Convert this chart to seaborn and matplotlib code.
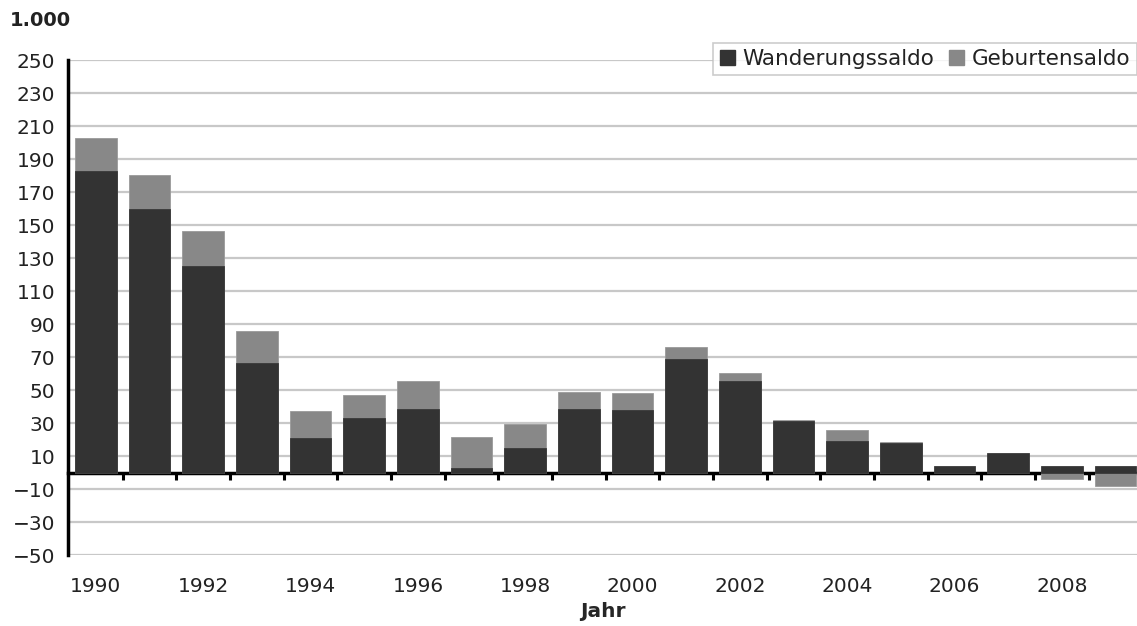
import pandas as pd
import seaborn as sns
import matplotlib.pyplot as plt
from matplotlib.patches import Patch

# Daten (in 1.000)
jahre = [str(j) for j in range(1990, 2010)]
wanderungssaldo = [183, 160, 125, 66.5, 20.8, 33, 38.8, 2.8, 14.7, 38.8,
                   37.6, 68.7, 55.4, 31.5, 19.4, 18.2, 3.8, 12.1, 3.8, 3.8]
geburtensaldo = [20, 20.5, 21.6, 19, 16.6, 13.7, 16.4, 18.8, 14.6, 10.2,
                 10.4, 7.1, 4.8, 0.3, 6.1, 0.2, 0, 0, -4.2, -7.9]

df = pd.DataFrame({'Jahr': jahre,
                   'Wanderungssaldo': wanderungssaldo,
                   'Geburtensaldo': geburtensaldo})
# gestapelt: positive Geburtensaldo auf Wanderungssaldo, negative ab 0
df['Geburten_oben'] = [w + g if g > 0 else g
                       for w, g in zip(df['Wanderungssaldo'], df['Geburtensaldo'])]

dunkel = '#333333'
grau = '#888888'

sns.set_style('white')
plt.rcParams['font.family'] = ['DejaVu Sans']

fig = plt.figure(figsize=(11.37, 6.26), dpi=100)
ax = fig.add_axes([0.0598, 0.1134, 0.9402, 0.7906])

ax.yaxis.grid(True, color='#c8c8c8', linewidth=1.6)
ax.set_axisbelow(True)

sns.barplot(data=df, x='Jahr', y='Geburten_oben', color=grau, saturation=1,
            width=0.78, edgecolor='#9a9a9a', linewidth=0.6, ax=ax)
sns.barplot(data=df, x='Jahr', y='Wanderungssaldo', color=dunkel, saturation=1,
            width=0.78, edgecolor='#3a3a3a', linewidth=0.6, ax=ax)

ax.set_ylim(-50, 250)
ax.set_xlim(-0.52, 19.4)
ax.set_yticks(range(-50, 251, 20))
ax.tick_params(axis='y', labelsize=14.5, length=4, width=2, direction='out',
               pad=5, color='black', labelcolor='#222222')

# Jahresbeschriftung unten, jede zweite
ax.set_xticks(range(0, 20, 2))
ax.set_xticklabels(jahre[::2])
ax.tick_params(axis='x', labelsize=14.5, length=0, pad=16, labelcolor='#222222')
ax.set_xlabel('Jahr', fontsize=14.5, fontweight='bold', labelpad=4)
ax.set_ylabel('')

for s in ['top', 'right', 'bottom']:
    ax.spines[s].set_visible(False)
ax.spines['left'].set_linewidth(2.5)
ax.spines['left'].set_color('black')

# Nulllinie mit Teilstrichen zwischen den Jahren
null = ax.secondary_xaxis(50 / 300)
null.set_xticks([i + 0.5 for i in range(19)])
null.set_xticklabels([])
null.tick_params(length=5, width=2.2, direction='out', color='black')
null.spines['bottom'].set_linewidth(2.5)
null.spines['bottom'].set_color('black')

fig.text(0.009, 0.968, '1.000', fontsize=14, fontweight='bold',
         color='#222222', va='center', ha='left')

handles = [Patch(facecolor=dunkel, edgecolor=dunkel, label='Wanderungssaldo'),
           Patch(facecolor=grau, edgecolor=grau, label='Geburtensaldo')]
leg = fig.legend(handles=handles, loc='upper right', bbox_to_anchor=(1.0, 0.932),
                 ncol=2, fontsize=15.5, frameon=True, fancybox=False,
                 handlelength=0.7, handleheight=0.7, handletextpad=0.35,
                 columnspacing=0.7, borderpad=0.3, borderaxespad=0)
leg.get_frame().set_edgecolor('#c0c0c0')
leg.get_frame().set_linewidth(1.2)
for t in leg.get_texts():
    t.set_color('#222222')

plt.savefig('out.png', dpi=100)
